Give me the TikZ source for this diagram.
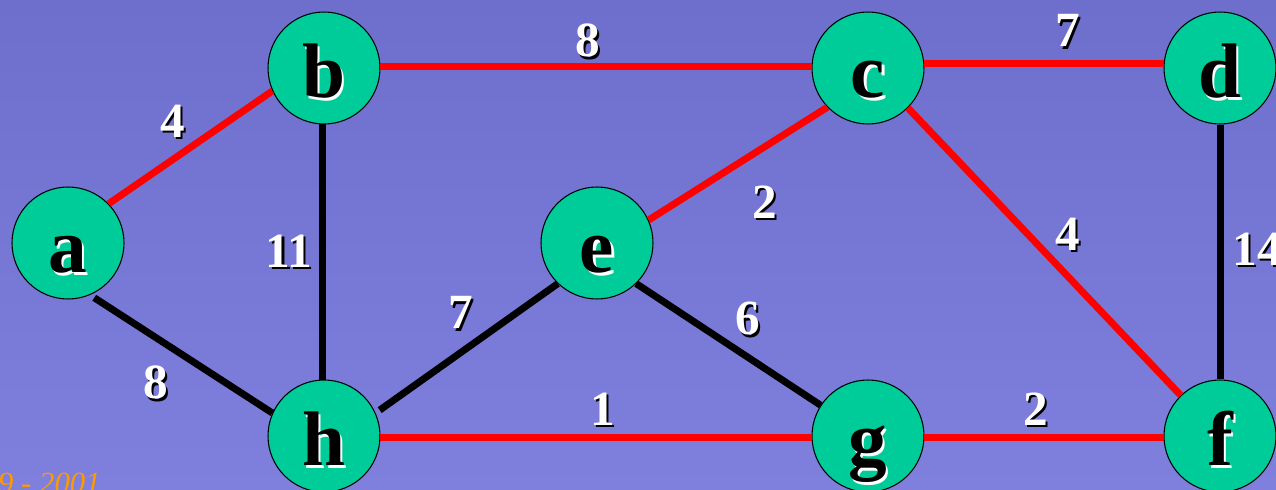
\documentclass[tikz,border=0pt]{standalone}
\usepackage{fontspec}
\setmainfont{Liberation Serif}
\definecolor{bgtop}{RGB}{110,111,204}
\definecolor{bgbot}{RGB}{127,128,222}
\definecolor{vertexgreen}{RGB}{0,204,153}
\definecolor{footorange}{RGB}{255,153,0}
% text with a drop shadow: {colour}{shadow colour}{text}
\newcommand{\shadowed}[3]{\rlap{\kern1.3pt\raisebox{-1.3pt}{\textcolor{#2}{#3}}}\textcolor{#1}{#3}}

\begin{document}
\begin{tikzpicture}[
  x=0.02cm, y=-0.02cm,
  vertex/.style={circle, draw=black, line width=0.6pt, fill=vertexgreen,
    minimum size=2.24cm, inner sep=0pt, text height=34pt, text depth=0pt,
    font=\fontsize{44}{44}\selectfont\bfseries},
  weight/.style={inner sep=0pt, font=\fontsize{28}{28}\selectfont\bfseries},
  tree/.style={draw=red, line width=0.14cm},
  nontree/.style={draw=black, line width=0.14cm}
]
  % Фон
  \useasboundingbox (0,0) rectangle (1276,490);
  \clip (0,0) rectangle (1276,490);
  \shade[top color=bgtop, bottom color=bgbot] (0,0) rectangle (1276,490);

  % Вершины
  \node[vertex] (a) at (68,243)   {\shadowed{black}{white}{a}};
  \node[vertex] (b) at (324,68)   {\shadowed{black}{white}{b}};
  \node[vertex] (c) at (868,68)   {\shadowed{black}{white}{c}};
  \node[vertex] (d) at (1220,68)  {\shadowed{black}{white}{d}};
  \node[vertex] (e) at (597,243)  {\shadowed{black}{white}{e}};
  \node[vertex] (h) at (324,436)  {\shadowed{black}{white}{h}};
  \node[vertex] (g) at (868,436)  {\shadowed{black}{white}{g}};
  \node[vertex] (f) at (1220,436) {\shadowed{black}{white}{f}};

  % Рёбра остова
  \draw[tree] (a.44) -- (b.204);
  \draw[tree] (b.2) -- (c.178);
  \draw[tree] (c.5) -- (d.175);
  \draw[tree] (e.24) -- (c.224);
  \draw[tree] (c.-45) -- (f.134);
  \draw[tree] (h.-2) -- (g.182);
  \draw[tree] (g.-2) -- (f.182);

  % Остальные рёбра
  \draw[nontree, shorten <=0.1cm] (a.-67) -- (h.156);
  \draw[nontree] (b.-92) -- (h.92);
  \draw[nontree, shorten <=0.1cm] (h.24) -- (e.226);
  \draw[nontree] (e.-46) -- (g.147);
  \draw[nontree] (d.south) -- (f.north);

  % Веса
  \node[weight] (w-ab) at (173,122)  {\shadowed{white}{black}{4}};
  \node[weight] (w-bc) at (588,42)   {\shadowed{white}{black}{8}};
  \node[weight] (w-cd) at (1068,32)  {\shadowed{white}{black}{7}};
  \node[weight] (w-bh) at (289,252)  {\shadowed{white}{black}{11}};
  \node[weight] (w-ah) at (156,384)  {\shadowed{white}{black}{8}};
  \node[weight] (w-he) at (461,314)  {\shadowed{white}{black}{7}};
  \node[weight] (w-ec) at (765,203)  {\shadowed{white}{black}{2}};
  \node[weight] (w-eg) at (748,320)  {\shadowed{white}{black}{6}};
  \node[weight] (w-cf) at (1068,235) {\shadowed{white}{black}{4}};
  \node[weight] (w-df) at (1257,250) {\shadowed{white}{black}{14}};
  \node[weight] (w-hg) at (603,410)  {\shadowed{white}{black}{1}};
  \node[weight] (w-gf) at (1036,410) {\shadowed{white}{black}{2}};

  % Подпись внизу
  \node[anchor=base east, inner sep=0pt, text=footorange,
    font=\fontsize{17.5}{17.5}\selectfont\itshape] (year) at (101,493) {1999 - 2001};
\end{tikzpicture}
\end{document}
